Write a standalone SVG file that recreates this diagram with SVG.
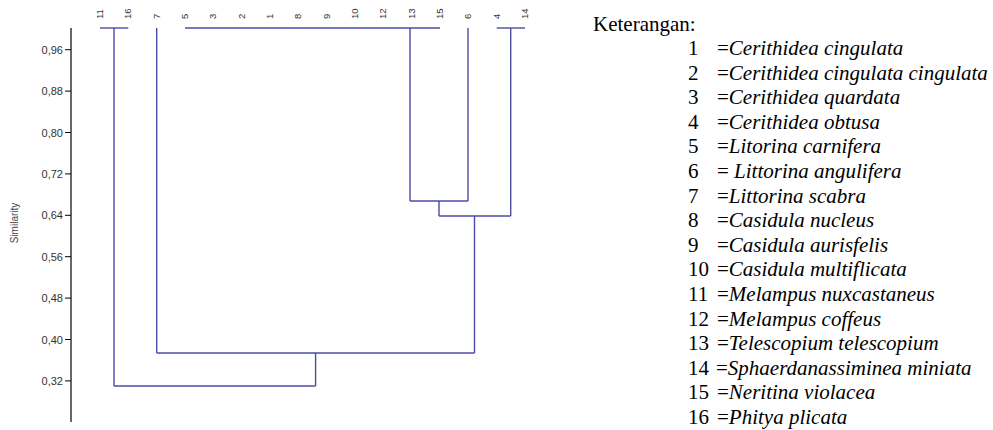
<svg xmlns="http://www.w3.org/2000/svg" width="993" height="430" viewBox="0 0 993 430">
<style>
.ax{stroke:#000;stroke-width:1.2;fill:none}
.tk{font-family:"Liberation Sans",Arial,sans-serif;font-size:11px;fill:#333;text-anchor:end}
.lb{font-family:"Liberation Sans",Arial,sans-serif;font-size:9.5px;fill:#333}
.ln{stroke:#4b4ba6;stroke-width:1.4;fill:none}
.lg{font-family:"Liberation Serif","Times New Roman",serif;font-size:21px;fill:#000}
.it{font-style:italic}
</style>
<rect width="993" height="430" fill="#fff"/>
<g id="axis">
<line class="ax" x1="71" y1="28" x2="71" y2="422"/>
<g stroke="#000" stroke-width="1">
<line x1="65" y1="49.7" x2="71" y2="49.7"/>
<line x1="65" y1="91.1" x2="71" y2="91.1"/>
<line x1="65" y1="132.5" x2="71" y2="132.5"/>
<line x1="65" y1="173.9" x2="71" y2="173.9"/>
<line x1="65" y1="215.3" x2="71" y2="215.3"/>
<line x1="65" y1="256.7" x2="71" y2="256.7"/>
<line x1="65" y1="298.1" x2="71" y2="298.1"/>
<line x1="65" y1="339.5" x2="71" y2="339.5"/>
<line x1="65" y1="380.9" x2="71" y2="380.9"/>
</g>
<text class="tk" x="63" y="53.7">0,96</text>
<text class="tk" x="63" y="95.1">0,88</text>
<text class="tk" x="63" y="136.5">0,80</text>
<text class="tk" x="63" y="177.9">0,72</text>
<text class="tk" x="63" y="219.3">0,64</text>
<text class="tk" x="63" y="260.7">0,56</text>
<text class="tk" x="63" y="302.1">0,48</text>
<text class="tk" x="63" y="343.5">0,40</text>
<text class="tk" x="63" y="384.9">0,32</text>
<text font-family="Liberation Sans,Arial,sans-serif" font-size="10" fill="#444" text-anchor="middle" transform="translate(18,223) rotate(-90)">Similarity</text>
</g>
<g id="leaf-labels">
<text class="lb" transform="translate(103,19) rotate(-90)">11</text>
<text class="lb" transform="translate(131.3,19) rotate(-90)">16</text>
<text class="lb" transform="translate(159.7,19) rotate(-90)">7</text>
<text class="lb" transform="translate(188,19) rotate(-90)">5</text>
<text class="lb" transform="translate(216.3,19) rotate(-90)">3</text>
<text class="lb" transform="translate(244.7,19) rotate(-90)">2</text>
<text class="lb" transform="translate(273,19) rotate(-90)">1</text>
<text class="lb" transform="translate(301.3,19) rotate(-90)">8</text>
<text class="lb" transform="translate(329.7,19) rotate(-90)">9</text>
<text class="lb" transform="translate(358,19) rotate(-90)">10</text>
<text class="lb" transform="translate(386.3,19) rotate(-90)">12</text>
<text class="lb" transform="translate(414.7,19) rotate(-90)">13</text>
<text class="lb" transform="translate(443,19) rotate(-90)">15</text>
<text class="lb" transform="translate(471.3,19) rotate(-90)">6</text>
<text class="lb" transform="translate(499.7,19) rotate(-90)">4</text>
<text class="lb" transform="translate(528,19) rotate(-90)">14</text>
</g>
<g id="connectors">
<line class="ln" x1="100" y1="28" x2="128.3" y2="28"/>
<line class="ln" x1="185" y1="28" x2="440" y2="28"/>
<line class="ln" x1="496.7" y1="28" x2="525" y2="28"/>
<line class="ln" x1="114" y1="28" x2="114" y2="386"/>
<line class="ln" x1="156.7" y1="28" x2="156.7" y2="353"/>
<line class="ln" x1="410" y1="28" x2="410" y2="201"/>
<line class="ln" x1="468" y1="28" x2="468" y2="201"/>
<line class="ln" x1="510.7" y1="28" x2="510.7" y2="216"/>
<line class="ln" x1="410" y1="201" x2="468" y2="201"/>
<line class="ln" x1="439" y1="201" x2="439" y2="216"/>
<line class="ln" x1="439" y1="216" x2="510.7" y2="216"/>
<line class="ln" x1="474.5" y1="216" x2="474.5" y2="353"/>
<line class="ln" x1="156.7" y1="353" x2="474.5" y2="353"/>
<line class="ln" x1="315.6" y1="353" x2="315.6" y2="386"/>
<line class="ln" x1="114" y1="386" x2="315.6" y2="386"/>
</g>
<g id="legend">
<text class="lg" x="593" y="31">Keterangan:</text>
<text class="lg" x="688" y="55">1</text><text class="lg" x="717" y="55">=<tspan class="it">Cerithidea cingulata</tspan></text>
<text class="lg" x="688" y="79.6">2</text><text class="lg" x="717" y="79.6">=<tspan class="it">Cerithidea cingulata cingulata</tspan></text>
<text class="lg" x="688" y="104.2">3</text><text class="lg" x="717" y="104.2">=<tspan class="it">Cerithidea quardata</tspan></text>
<text class="lg" x="688" y="128.8">4</text><text class="lg" x="717" y="128.8">=<tspan class="it">Cerithidea obtusa</tspan></text>
<text class="lg" x="688" y="153.4">5</text><text class="lg" x="717" y="153.4">=<tspan class="it">Litorina carnifera</tspan></text>
<text class="lg" x="688" y="178">6</text><text class="lg" x="717" y="178">= <tspan class="it">Littorina angulifera</tspan></text>
<text class="lg" x="688" y="202.6">7</text><text class="lg" x="717" y="202.6">=<tspan class="it">Littorina scabra</tspan></text>
<text class="lg" x="688" y="227.2">8</text><text class="lg" x="717" y="227.2">=<tspan class="it">Casidula nucleus</tspan></text>
<text class="lg" x="688" y="251.8">9</text><text class="lg" x="717" y="251.8">=<tspan class="it">Casidula aurisfelis</tspan></text>
<text class="lg" x="688" y="276.4">10</text><text class="lg" x="717" y="276.4">=<tspan class="it">Casidula multiflicata</tspan></text>
<text class="lg" x="688" y="301">11</text><text class="lg" x="717" y="301">=<tspan class="it">Melampus nuxcastaneus</tspan></text>
<text class="lg" x="688" y="325.6">12</text><text class="lg" x="717" y="325.6">=<tspan class="it">Melampus coffeus</tspan></text>
<text class="lg" x="688" y="350.2">13</text><text class="lg" x="717" y="350.2">=<tspan class="it">Telescopium telescopium</tspan></text>
<text class="lg" x="688" y="374.8">14</text><text class="lg" x="716" y="374.8">=<tspan class="it">Sphaerdanassiminea miniata</tspan></text>
<text class="lg" x="688" y="399.4">15</text><text class="lg" x="717" y="399.4">=<tspan class="it">Neritina violacea</tspan></text>
<text class="lg" x="688" y="424">16</text><text class="lg" x="717" y="424">=<tspan class="it">Phitya plicata</tspan></text>
</g>
</svg>
